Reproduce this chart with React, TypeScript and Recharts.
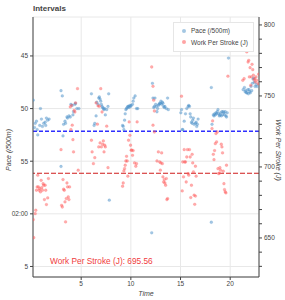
import { ScatterChart, Scatter, XAxis, YAxis, CartesianGrid, ReferenceLine } from 'recharts';

// pace samples: time (min) and pace per 500m in seconds (105 = 1:45)
const paceTime = [
  0.17, 0.3, 0.37, 0.5, 0.57, 0.63, 0.83, 0.9, 1.0, 1.1, 1.23, 1.37, 1.43, 1.5, 1.63, 1.77,
  2.97, 2.97, 3.1, 3.17, 3.23, 3.37, 3.43, 3.57, 3.63, 3.77, 3.9, 3.97, 4.1, 4.17, 4.23, 4.37, 4.43, 4.57, 4.77,
  6.03, 6.3, 6.37, 6.5, 6.57, 6.7, 6.77, 6.83, 6.9, 6.97, 7.03, 7.1, 7.17, 7.23, 7.3, 7.37, 7.43, 7.57, 7.7, 7.77, 7.83,
  9.17, 9.23, 9.3, 9.37, 9.43, 9.5, 9.57, 9.63, 9.7, 9.77, 9.83, 9.9, 9.97, 10.03, 10.17, 10.23, 10.3, 10.43, 10.57, 10.7,
  12.1, 12.17, 12.23, 12.3, 12.37, 12.43, 12.5, 12.57, 12.63, 12.7, 12.77, 12.83, 12.9, 12.97, 13.03, 13.1, 13.17, 13.23, 13.3, 13.37, 13.43, 13.57, 13.7, 13.77,
  15.03, 15.1, 15.17, 15.23, 15.37, 15.5, 15.63, 15.77, 15.83, 15.9, 15.97, 16.03, 16.1, 16.17, 16.23, 16.3, 16.37, 16.5, 16.57, 16.63, 16.7, 16.77,
  18.1, 18.1, 18.17, 18.3, 18.37, 18.43, 18.5, 18.57, 18.63, 18.7, 18.77, 18.83, 18.9, 18.97, 19.03, 19.1, 19.17, 19.23, 19.3, 19.37, 19.43, 19.5, 19.57, 19.63, 19.7, 19.83,
  21.3, 21.43, 21.5, 21.57, 21.63, 21.7, 21.77, 21.83, 21.9, 21.97, 22.03, 22.1, 22.17, 22.23, 22.3, 22.37, 22.43, 22.5, 22.63, 22.7,
];
const paceSec = [
  109.2, 111.8, 111.4, 111.2, 112.0, 112.5, 111.6, 110.0, 111.0, 111.7, 111.4, 111.3, 111.6, 110.9, 111.1, 111.0,
  108.3, 115.5, 108.8, 112.6, 111.5, 111.2, 111.4, 110.8, 110.9, 110.7, 110.8, 109.6, 109.7, 110.6, 110.3, 109.6, 109.5, 110.0, 110.0,
  108.6, 111.6, 111.4, 110.7, 109.4, 109.6, 109.0, 108.9, 109.1, 109.3, 109.6, 109.8, 109.9, 110.0, 110.1, 110.0, 110.6, 110.1, 109.8, 108.6, 118.7,
  111.6, 111.7, 112.0, 111.1, 110.5, 110.1, 110.0, 109.9, 109.8, 109.8, 109.9, 109.7, 109.8, 109.7, 109.6, 109.3, 109.0, 108.8, 110.0, 110.0,
  121.8, 107.6, 109.0, 109.9, 109.8, 109.0, 109.6, 109.8, 110.3, 110.0, 109.7, 109.6, 109.5, 109.5, 109.3, 109.6, 109.4, 109.5, 109.8, 109.9, 109.8, 110.0, 109.0, 110.1,
  110.4, 110.1, 112.0, 112.0, 111.2, 110.5, 110.0, 109.8, 109.7, 109.8, 110.5, 110.8, 111.3, 111.4, 111.1, 110.9, 111.5, 111.4, 111.3, 111.7, 111.5, 111.0,
  120.8, 108.0, 111.5, 110.6, 110.7, 110.5, 110.6, 110.4, 110.5, 110.3, 110.1, 110.5, 110.7, 110.6, 110.4, 110.7, 110.3, 110.6, 110.3, 110.4, 110.6, 110.3, 110.7, 110.8, 110.4, 105.2,
  108.2, 108.0, 108.4, 108.3, 108.5, 108.5, 108.2, 108.6, 108.2, 108.4, 108.5, 107.9, 108.3, 107.6, 107.2, 107.1, 107.5, 107.9, 107.7, 107.9,
];

// work per stroke samples: time (min) and joules
const workTime = [
  0.17, 0.23, 0.37, 0.43, 0.5, 0.57, 0.63, 0.7, 0.77, 0.83, 0.9, 0.97, 1.03, 1.1, 1.17, 1.23, 1.3, 1.37, 1.43, 1.5, 1.63, 1.7,
  2.97, 3.03, 3.1, 3.17, 3.23, 3.3, 3.37, 3.43, 3.5, 3.57, 3.63, 3.7, 3.77, 3.83, 3.9, 3.97, 4.03, 4.1, 4.17, 4.23, 4.3, 4.37, 4.43, 4.63, 4.7,
  6.03, 6.1, 6.23, 6.37, 6.5, 6.63, 6.7, 6.77, 6.83, 6.9, 6.97, 7.03, 7.1, 7.17, 7.23, 7.3, 7.37, 7.43, 7.57, 7.7,
  9.17, 9.23, 9.3, 9.37, 9.43, 9.5, 9.57, 9.63, 9.7, 9.77, 9.83, 9.9, 9.97, 10.03, 10.1, 10.17, 10.23, 10.37, 10.5, 10.57, 10.63,
  12.1, 12.23, 12.3, 12.37, 12.23, 12.37, 12.63, 12.77, 12.9, 12.97, 13.03, 13.1, 13.17, 13.23, 13.3, 13.37, 13.43, 13.5, 13.57, 13.63, 13.7,
  15.1, 15.17, 15.23, 15.3, 15.37, 15.43, 15.5, 15.57, 15.63, 15.7, 15.77, 15.83, 15.9, 15.97, 16.03, 16.1, 16.17, 16.23, 16.3, 16.37, 16.43, 16.5, 16.57, 16.5,
  18.17, 18.23, 18.3, 18.37, 18.43, 18.5, 18.57, 18.63, 18.7, 18.77, 18.83, 18.9, 18.97, 19.03, 19.1, 19.17, 19.23, 19.3, 19.37, 19.43, 19.5, 19.57, 19.63, 19.77,
  21.27, 21.4, 21.67, 21.8, 21.87, 21.93, 22.0, 22.07, 22.13, 22.2, 22.27, 22.33, 22.4, 22.47, 22.53, 22.6, 22.67, 22.8, 22.87,
];
const workJ = [
  662.9, 650.2, 667.1, 669.5, 683.6, 685.9, 694.2, 685.9, 683.6, 684.7, 682.4, 690.6, 685.4, 683.6, 688.2, 687.1, 677.0, 687.1, 683.6, 673.5, 678.2, 691.8,
  712.2, 673.0, 671.8, 691.1, 684.3, 683.6, 675.4, 661.3, 677.7, 688.7, 685.9, 678.9, 677.0, 685.9, 742.3, 726.3, 743.4, 729.4, 719.2, 710.6, 739.9, 738.7, 745.1, 755.1, 697.7,
  718.8, 710.6, 702.3, 706.5, 745.1, 730.1, 743.0, 714.1, 742.7, 716.9, 755.1, 714.1, 738.7, 716.0, 718.3, 710.6, 715.3, 714.1, 728.7, 699.5,
  686.4, 688.7, 697.2, 698.8, 701.2, 704.2, 707.5, 704.2, 693.5, 718.8, 731.7, 722.3, 715.3, 711.8, 711.8, 708.2, 711.5, 702.8, 700.5, 702.3, 731.7,
  770.4, 756.8, 747.0, 739.4, 729.4, 724.6, 704.2, 710.6, 703.5, 697.7, 702.8, 709.9, 702.3, 693.0, 689.4, 691.1, 688.7, 687.1, 691.8, 677.0, 677.7,
  749.8, 683.1, 703.5, 693.0, 712.2, 703.5, 703.5, 689.4, 707.0, 712.2, 695.3, 694.2, 712.2, 707.0, 678.4, 687.1, 708.9, 702.8, 696.5, 680.1, 673.7, 700.5, 693.5, 679.5,
  727.0, 732.4, 708.9, 705.1, 711.5, 716.4, 723.5, 717.6, 724.6, 698.8, 695.3, 695.6, 699.5, 697.7, 716.0, 714.1, 709.9, 697.0, 688.2, 684.0, 682.4, 681.7, 701.2, 763.9,
  761.0, 762.2, 781.0, 773.9, 775.1, 763.4, 769.9, 757.5, 763.4, 772.3, 768.5, 764.6, 761.5, 762.2, 759.9, 763.4, 761.0, 758.7, 765.3,
];

const avgPace = 112.15;
const avgWork = 695.56;

const timeTicks = [5, 10, 15, 20];
const paceTicks = [105, 110, 115, 120, 125];
const paceTickLabels = ['45', '50', '55', '02:00', '5'];
const workTicks = [630, 640, 650, 660, 670, 680, 690, 700, 710, 720, 730, 740, 750, 760, 770, 780, 790, 800];

const paceData = paceTime.map((t, i) => ({ t, pace: paceSec[i] }));
const workData = workTime.map((t, i) => ({ t, work: workJ[i] }));

const FONT = '"Liberation Sans", Arial, sans-serif';
const INK = '#444';
const BLUE = '#4a90c8';
const RED = '#ff5a5a';

const dot = (color: string, op: number) => (props: any) => (
  <circle cx={props.cx} cy={props.cy} r={1.4} fill={color} fillOpacity={op} stroke={color} strokeOpacity={op * 0.7} strokeWidth={0.5} />
);

const WorkTick = (props: any) => {
  const v = props.payload.value;
  if (v % 50 !== 0) return null;
  return (
    <text x={props.x} y={props.y} dy={2.3} textAnchor="start" fontSize={6.5} fill={INK} fontFamily={FONT}>
      {v}
    </text>
  );
};

const abs = (x: number, y: number, extra: any = {}) => ({
  position: 'absolute' as const,
  left: x,
  top: y,
  whiteSpace: 'nowrap' as const,
  lineHeight: 1,
  fontFamily: FONT,
  ...extra,
});

export default function App() {
  return (
    <div style={{ position: 'absolute', left: 0, top: 0, width: 285, height: 300, background: '#fff', fontFamily: FONT }}>
      <ScatterChart width={285} height={300} margin={{ top: 17, right: 0, bottom: 0, left: 0 }}>
        <CartesianGrid yAxisId="pace" stroke="#e8e8e8" strokeWidth={1} />
        <XAxis
          type="number"
          dataKey="t"
          domain={[0.15, 22.9]}
          ticks={timeTicks}
          interval={0}
          allowDataOverflow
          height={23}
          tickSize={3}
          tickMargin={1}
          stroke={INK}
          tick={{ fontSize: 6.5, fill: INK, fontFamily: FONT }}
        />
        <YAxis
          yAxisId="pace"
          type="number"
          dataKey="pace"
          reversed
          domain={[101.3, 126]}
          ticks={paceTicks}
          interval={0}
          allowDataOverflow
          width={33}
          tickSize={3}
          tickMargin={2}
          stroke={INK}
          tickFormatter={(v: number) => paceTickLabels[paceTicks.indexOf(v)] ?? ''}
          tick={{ fontSize: 6.5, fill: INK, fontFamily: FONT }}
        />
        <YAxis
          yAxisId="work"
          orientation="right"
          type="number"
          dataKey="work"
          domain={[622.5, 805.6]}
          ticks={workTicks}
          interval={0}
          allowDataOverflow
          width={26}
          tickSize={3}
          tickMargin={2}
          stroke={INK}
          tick={<WorkTick />}
        />
        <Scatter yAxisId="pace" data={paceData} shape={dot(BLUE, 0.5)} isAnimationActive={false} />
        <Scatter yAxisId="work" data={workData} shape={dot(RED, 0.5)} isAnimationActive={false} />
        <ReferenceLine yAxisId="pace" y={avgPace} stroke="#2f2fff" strokeWidth={1.5} strokeDasharray="4 2" />
        <ReferenceLine yAxisId="work" y={avgWork} stroke="#d01c1c" strokeWidth={1.2} strokeDasharray="5 2" />
      </ScatterChart>

      <div style={abs(33, 5, { fontSize: 8, fontWeight: 'bold', color: INK })}>Intervals</div>

      <div
        style={abs(173, 22, {
          width: 81,
          height: 30,
          boxSizing: 'border-box',
          border: '1px solid #e6e6e6',
          background: '#fff',
          fontSize: 6.5,
          color: INK,
        })}
      >
        <div style={abs(8, 5.5, { width: 4, height: 4, borderRadius: 2, background: BLUE, opacity: 0.5 })} />
        <div style={abs(17, 5)}>Pace (/500m)</div>
        <div style={abs(8, 17, { width: 4, height: 4, borderRadius: 2, background: RED, opacity: 0.55 })} />
        <div style={abs(17, 16.5)}>Work Per Stroke (J)</div>
      </div>

      <div style={abs(50, 257, { fontSize: 8.3, color: '#f03c3c' })}>Work Per Stroke (J): {avgWork}</div>

      <div style={abs(146, 293, { fontSize: 7, fontStyle: 'italic', color: INK, transform: 'translate(-50%,-50%)' })}>Time</div>
      <div style={abs(8, 150, { fontSize: 7, fontStyle: 'italic', color: INK, transform: 'translate(-50%,-50%) rotate(-90deg)' })}>
        Pace (/500m)
      </div>
      <div style={abs(278, 150, { fontSize: 7, fontStyle: 'italic', color: INK, transform: 'translate(-50%,-50%) rotate(90deg)' })}>
        Work Per Stroke (J)
      </div>
    </div>
  );
}
